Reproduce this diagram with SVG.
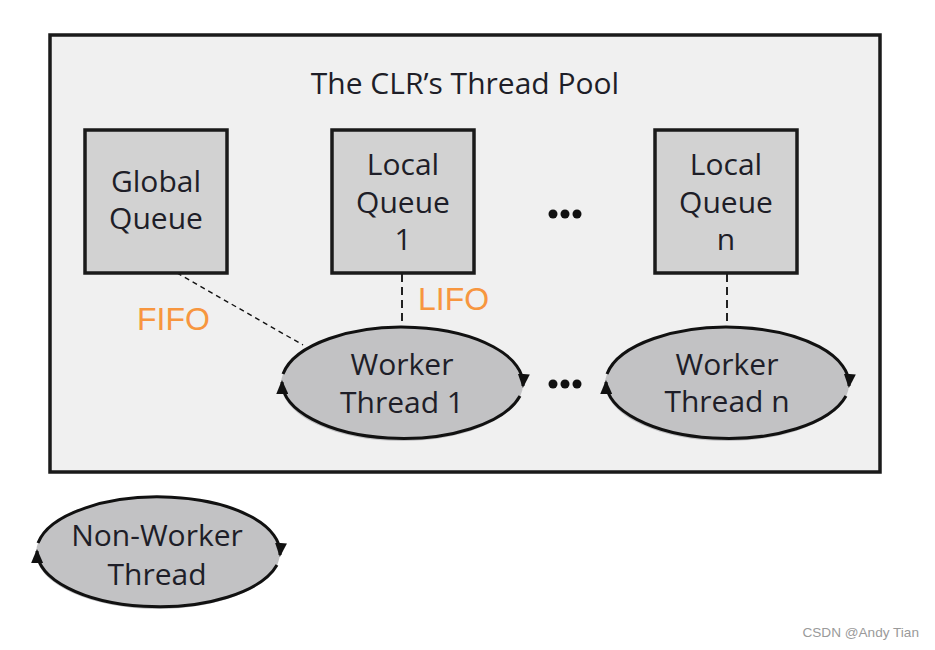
<svg xmlns="http://www.w3.org/2000/svg" width="935" height="650" viewBox="0 0 935 650">
<defs>
<style>
.box{fill:#d2d2d2;stroke:#1a1a1a;stroke-width:3.5}
.ell{fill:#c2c2c4;stroke:none}
.arc{fill:none;stroke:#111;stroke-width:3;marker-end:url(#ah)}
.t{font-family:"Open Sans","Noto Sans",sans-serif;font-size:30px;fill:#1e1e28;text-anchor:middle}
.o{font-family:"Liberation Sans",Arial,sans-serif;font-size:32px;fill:#f7963f}
.dash1{stroke:#111;stroke-width:1.4;stroke-dasharray:5 4;fill:none}
.dash2{stroke:#222;stroke-width:2;stroke-dasharray:8 5;fill:none}
</style>
<marker id="ah" viewBox="0 0 14 12" refX="12" refY="6" markerWidth="14" markerHeight="12" markerUnits="userSpaceOnUse" orient="auto">
<path d="M0,0 L14,6 L0,12 Z" fill="#111"/>
</marker>
</defs>
<rect width="935" height="650" fill="#ffffff"/>
<g id="pool">
<rect x="50" y="35" width="830" height="437" fill="#f0f0f0" stroke="#1a1a1a" stroke-width="3.5"/>
<text class="t" x="465" y="94" font-size="30.5">The CLR’s Thread Pool</text>
</g>
<g id="connectors">
<line class="dash1" x1="177" y1="273" x2="303" y2="345"/>
<line class="dash2" x1="402" y1="274" x2="402" y2="327"/>
<line class="dash2" x1="727" y1="274" x2="727" y2="327"/>
</g>
<g id="global-queue">
<rect class="box" x="85" y="130" width="142" height="143"/>
<text class="t" x="156" y="192">Global</text>
<text class="t" x="156" y="229">Queue</text>
</g>
<g id="local-queue-1">
<rect class="box" x="332" y="130" width="142" height="143"/>
<text class="t" x="403" y="175">Local</text>
<text class="t" x="403" y="213">Queue</text>
<text class="t" x="403" y="250">1</text>
</g>
<g id="dots-top">
<circle cx="553" cy="214" r="4.5" fill="#111"/>
<circle cx="565" cy="214" r="4.5" fill="#111"/>
<circle cx="577" cy="214" r="4.5" fill="#111"/>
</g>
<g id="local-queue-n">
<rect class="box" x="655" y="130" width="142" height="143"/>
<text class="t" x="726" y="175">Local</text>
<text class="t" x="726" y="213">Queue</text>
<text class="t" x="726" y="250">n</text>
</g>
<g id="fifo-label"><text class="o" x="137" y="330">FIFO</text></g>
<g id="lifo-label"><text class="o" x="418" y="310">LIFO</text></g>
<g id="worker-thread-1">
<ellipse class="ell" cx="402" cy="384" rx="121" ry="57"/>
<path class="arc" d="M283,374 A121,57 0 0 1 523,386"/>
<path class="arc" d="M520,396 A121,57 0 0 1 282,382"/>
<text class="t" x="402" y="375">Worker</text>
<text class="t" x="402" y="413">Thread 1</text>
</g>
<g id="dots-mid">
<circle cx="553" cy="384" r="4.5" fill="#111"/>
<circle cx="565" cy="384" r="4.5" fill="#111"/>
<circle cx="577" cy="384" r="4.5" fill="#111"/>
</g>
<g id="worker-thread-n">
<ellipse class="ell" cx="727" cy="384" rx="122" ry="57"/>
<path class="arc" d="M607,374 A122,57 0 0 1 849,386"/>
<path class="arc" d="M846,396 A122,57 0 0 1 606,382"/>
<text class="t" x="727" y="375">Worker</text>
<text class="t" x="727" y="412">Thread n</text>
</g>
<g id="non-worker-thread">
<ellipse class="ell" cx="158" cy="553" rx="122" ry="56"/>
<path class="arc" d="M38,543 A122,56 0 0 1 280,555"/>
<path class="arc" d="M277,565 A122,56 0 0 1 37,551"/>
<text class="t" x="157" y="546">Non-Worker</text>
<text class="t" x="157" y="585">Thread</text>
</g>
<g id="watermark">
<text x="919" y="637" font-family="Liberation Sans, Arial, sans-serif" font-size="13.6" fill="#9a9a9a" text-anchor="end">CSDN @Andy Tian</text>
</g>
</svg>
